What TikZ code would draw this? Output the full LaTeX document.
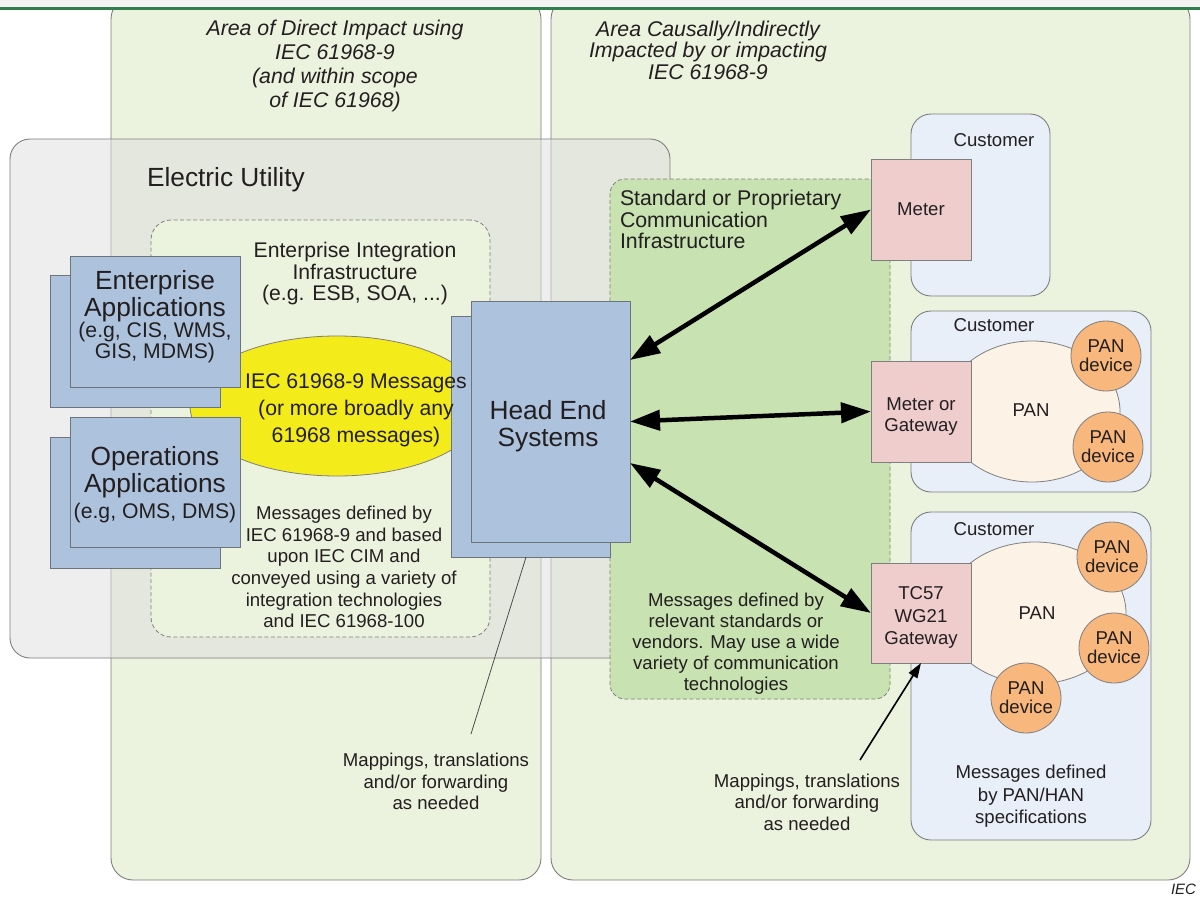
\documentclass[tikz,border=0pt]{standalone}
\usepackage{fontspec}
\setmainfont{Liberation Sans}
\usetikzlibrary{shapes.geometric,arrows.meta,calc}
\definecolor{panelgreen}{HTML}{EBF2DD}
\definecolor{commgreen}{HTML}{C8E2B1}
\definecolor{appblue}{HTML}{ADC2DC}
\definecolor{msgyellow}{HTML}{F3EC1A}
\definecolor{custblue}{HTML}{E8EFF8}
\definecolor{meterpink}{HTML}{F0CDCD}
\definecolor{pancream}{HTML}{FDF2E6}
\definecolor{devorange}{HTML}{F8B77C}
\definecolor{edge}{HTML}{7F7F7F}
\definecolor{boxedge}{HTML}{6E747C}
\definecolor{ink}{HTML}{231F20}
\definecolor{topgray}{HTML}{F3F3F3}
\definecolor{topline}{HTML}{327E4C}
\newcommand\fbody{\fontsize{18.6}{21.6}\selectfont}
\newcommand\fmid{\fontsize{21.2}{21.5}\selectfont}
\newcommand\fbig{\fontsize{26.3}{27}\selectfont}
\begin{document}
\begin{tikzpicture}[x=1pt,y=-1pt,
  every node/.style={inner sep=0pt, outer sep=0pt, text=ink},
  panel/.style={rectangle, draw=edge, line width=0.9pt, fill=panelgreen, rounded corners=22pt},
  eubox/.style={rectangle, draw=edge, line width=0.9pt, fill=black!13, fill opacity=0.5, rounded corners=20pt},
  eibox/.style={rectangle, draw=edge, line width=0.8pt, dash pattern=on 4pt off 2.5pt, fill=panelgreen, rounded corners=20pt},
  commbox/.style={rectangle, draw=edge, line width=0.8pt, dash pattern=on 4pt off 2.5pt, fill=commgreen, rounded corners=15pt},
  appbox/.style={rectangle, draw=boxedge, line width=0.9pt, fill=appblue},
  custbox/.style={rectangle, draw=edge, line width=0.9pt, fill=custblue, rounded corners=20pt},
  meterbox/.style={rectangle, draw=edge, line width=0.9pt, fill=meterpink},
  panblob/.style={ellipse, draw=edge, line width=0.8pt, fill=pancream},
  pandev/.style={circle, draw=edge, line width=0.8pt, fill=devorange, minimum size=70pt, font=\fontsize{18.6}{19}\selectfont, align=center},
  txt/.style={font=\fbody, align=center},
  bigarrow/.style={line width=4.5pt, {Triangle[length=30pt,width=20pt]}-{Triangle[length=30pt,width=20pt]}},
  thinarrow/.style={line width=1.6pt, -{Triangle[length=15pt,width=10pt]}},
  leader/.style={line width=0.8pt, draw=ink!80}
]
\useasboundingbox (0,0) rectangle (1200,899);
\fill[white] (0,0) rectangle (1200,899);

% area panels
\node[panel, minimum width=430pt, minimum height=883pt] (areaL) at (326,438.5) {};
\node[panel, minimum width=639pt, minimum height=883pt] (areaR) at (870.5,438.5) {};
\fill[topgray] (0,0) rectangle (1200,7);
\fill[topline] (0,7) rectangle (1200,10);

% electric utility
\node[eubox, minimum width=660pt, minimum height=519pt] (eu) at (340,398.5) {};
% enterprise integration infrastructure
\node[eibox, minimum width=339pt, minimum height=417pt] (eii) at (320.5,428.5) {};
% communication infrastructure
\node[commbox, minimum width=280pt, minimum height=520pt] (comm) at (750,439) {};

% messages ellipse
\node[ellipse, draw=edge, line width=0.8pt, fill=msgyellow, minimum width=294pt, minimum height=140pt] (msg) at (337,406) {};

% application stacks
\node[appbox, minimum width=170pt, minimum height=132pt] (entback) at (135,341) {};
\node[appbox, minimum width=170pt, minimum height=131pt] (ent) at (155,321.5) {};
\node[appbox, minimum width=170pt, minimum height=131pt] (opsback) at (135,502.5) {};
\node[appbox, minimum width=170pt, minimum height=130pt] (ops) at (155,482) {};

% head end
\node[appbox, minimum width=159pt, minimum height=241pt] (heback) at (530.5,436.5) {};
\node[appbox, minimum width=159pt, minimum height=241pt] (he) at (550.5,421.5) {};

% customers
\node[custbox, minimum width=139pt, minimum height=182pt] (cust1) at (980.5,205) {};
\node[custbox, minimum width=240pt, minimum height=181pt] (cust2) at (1031,401.5) {};
\node[custbox, minimum width=240pt, minimum height=328pt] (cust3) at (1031,676) {};

% PAN blobs
\node[panblob, minimum width=176pt, minimum height=141pt] (pan2) at (1032,411.5) {};
\node[panblob, minimum width=182pt, minimum height=142pt] (pan3) at (1035,613) {};

% meters / gateways
\node[meterbox, minimum width=100pt, minimum height=101pt] (meter) at (921,209.5) {};
\node[meterbox, minimum width=100pt, minimum height=101pt] (gw) at (921,411.5) {};
\node[meterbox, minimum width=100pt, minimum height=100pt] (tc) at (921,613) {};
\node[txt] (metertext) at (921,209.5) {Meter};
\node[txt, font=\fontsize{18.6}{21}\selectfont] (gwtext) at (921,416.5) {Meter or\\Gateway};
\node[txt, font=\fontsize{18.6}{22.5}\selectfont] (tctext) at (921,617.5) {TC57\\WG21\\Gateway};

% PAN devices
\node[pandev] (d21) at (1106,356) {PAN\\device};
\node[pandev] (d22) at (1108,447) {PAN\\device};
\node[pandev] (d31) at (1112,557) {PAN\\device};
\node[pandev] (d32) at (1114,648) {PAN\\device};
\node[pandev] (d33) at (1026,698) {PAN\\device};

% texts
\node[font=\fontsize{21.3}{24}\selectfont\itshape, align=center] (titleL) at (335,66) {Area of Direct Impact using\\IEC 61968-9\\(and within scope\\of IEC 61968)};
\node[font=\fontsize{21.3}{21.5}\selectfont\itshape, align=center] (titleR) at (708,50) {Area Causally/Indirectly\\Impacted by or impacting\\IEC 61968-9};
\node[font=\fbig, anchor=west] (eutitle) at (147,179.6) {Electric Utility};
\node[font=\fmid, align=center] (eiitext) at (355,273.7) {Enterprise Integration\\Infrastructure\\(e.g. ESB, SOA, ...)};
\node[font=\fbig, align=center] (enttext) at (155,296.3) {Enterprise\\Applications};
\node[font=\fmid, align=center] (entsub) at (155,342.7) {(e.g, CIS, WMS,\\GIS, MDMS)};
\node[font=\fbig, align=center] (opstext) at (155,471.8) {Operations\\Applications};
\node[font=\fmid, align=center] (opssub) at (155,513) {(e.g, OMS, DMS)};
\node[font=\fontsize{21.2}{27}\selectfont, align=center] (msgtext) at (356,410) {IEC 61968-9 Messages\\(or more broadly any\\61968 messages)};
\node[font=\fbig, align=center] (hetext) at (548,426) {Head End\\Systems};
\node[txt] (eimsg) at (344,567) {Messages defined by\\IEC 61968-9 and based\\upon IEC CIM and\\conveyed using a variety of\\integration technologies\\and IEC 61968-100};
\node[font=\fontsize{21.3}{21.5}\selectfont, align=left, anchor=west] (commtitle) at (620,219.5) {Standard or Proprietary\\Communication\\Infrastructure};
\node[font=\fontsize{18.6}{21}\selectfont, align=center] (commmsg) at (736,644) {Messages defined by\\relevant standards or\\vendors. May use a wide\\variety of communication\\technologies};
\node[txt] (c1lab) at (994,140) {Customer};
\node[txt] (c2lab) at (994,325) {Customer};
\node[txt] (c3lab) at (994,529) {Customer};
\node[txt] (pan2lab) at (1031,410) {PAN};
\node[txt] (pan3lab) at (1037,613) {PAN};
\node[txt] (mapL) at (436,781.5) {Mappings, translations\\and/or forwarding\\as needed};
\node[txt] (mapR) at (807,802) {Mappings, translations\\and/or forwarding\\as needed};
\node[txt, font=\fontsize{18.6}{22.5}\selectfont] (panmsg) at (1031,796.5) {Messages defined\\by PAN/HAN\\specifications};
\node[font=\fontsize{15}{17}\selectfont\itshape, anchor=east] (ieclab) at (1196,889) {IEC};

% connectors
\draw[bigarrow] ([yshift=61.5pt]he.east) -- (meter.west);
\draw[bigarrow] (he.east) -- (gw.west);
\draw[bigarrow] ([yshift=-41.5pt]he.east) -- (tc.west);
\coordinate (mapRtail) at (860,760);
\draw[thinarrow] (mapRtail) -- (tc.south);
\coordinate (hefoot) at ($(heback.south west)!0.472!(heback.south east)$);
\coordinate (mapLtip) at (471,734);
\draw[leader] (hefoot) -- (mapLtip);
\end{tikzpicture}
\end{document}
